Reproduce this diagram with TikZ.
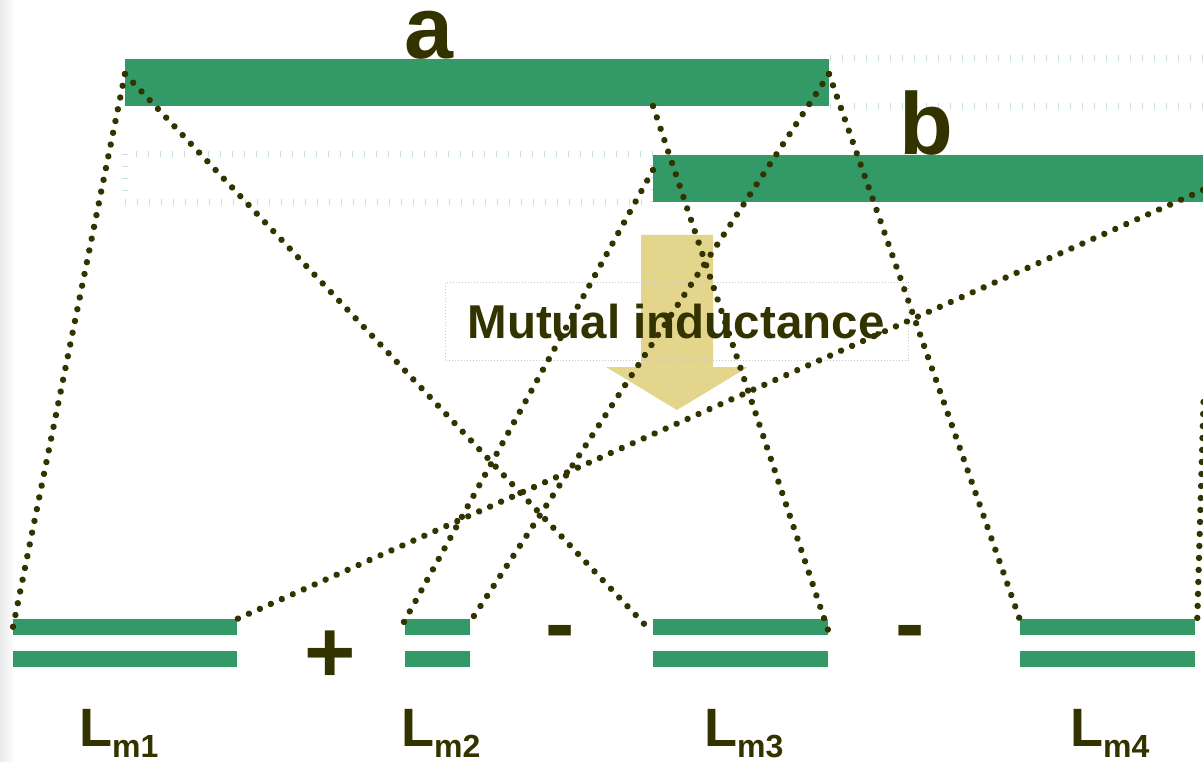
\documentclass[tikz,border=0pt]{standalone}
\usepackage{fontspec}
\setmainfont{Liberation Sans}
\usetikzlibrary{decorations.markings}
\definecolor{grn}{HTML}{339966}
\definecolor{ink}{HTML}{333300}
\definecolor{yel}{HTML}{E3D58B}
\definecolor{faint}{HTML}{C5E3DC}
\definecolor{boxgray}{HTML}{C8C8C8}
\begin{document}
\begin{tikzpicture}[x=1pt,y=-1pt,
  bar/.style={fill=grn, draw=none, inner sep=0pt, outer sep=0pt, rectangle, anchor=north west},
  dots/.style={postaction={decorate}, decoration={markings,
      mark=between positions 0 and 1 step 12pt with {\fill[ink] (0,0) circle (3.2pt);}}},
  faintbox/.style={draw=faint, line width=6pt, dash pattern=on 1pt off 11pt},
  big/.style={text=ink, inner sep=0pt, font=\fontsize{88}{88}\selectfont\bfseries},
  lbl/.style={text=ink, inner sep=0pt, anchor=base west, font=\bfseries}]
\useasboundingbox (0,0) rectangle (1203,762);
\clip (0,0) rectangle (1203,762);
\fill[white] (0,0) rectangle (1203,762);
\shade[left color=black!8, right color=white] (0,0) rectangle (16,762);

% faint selection outlines
\draw[faintbox] (830,58) -- (1210,58);
\draw[faintbox] (830,106) -- (1210,106);
\draw[faintbox] (125,154) rectangle (653,202);

% letters a and b
\node[big, anchor=base] (ta) at (429,59) {a};
\node[big, anchor=base] (tb) at (926,155) {b};

% bars
\node[bar, minimum width=704pt, minimum height=47pt] (bara) at (125,59) {};
\node[bar, minimum width=560pt, minimum height=47pt] (barb) at (653,155) {};

\node[bar, minimum width=224pt, minimum height=16pt] (m1t) at (13,619) {};
\node[bar, minimum width=224pt, minimum height=16pt] (m1b) at (13,651) {};
\node[bar, minimum width=65pt, minimum height=16pt] (m2t) at (405,619) {};
\node[bar, minimum width=65pt, minimum height=16pt] (m2b) at (405,651) {};
\node[bar, minimum width=175pt, minimum height=16pt] (m3t) at (653,619) {};
\node[bar, minimum width=175pt, minimum height=16pt] (m3b) at (653,651) {};
\node[bar, minimum width=175pt, minimum height=16pt] (m4t) at (1020,619) {};
\node[bar, minimum width=175pt, minimum height=16pt] (m4b) at (1020,651) {};

% arrow
\fill[yel] (641,235) -- (713,235) -- (713,367) -- (748,367) -- (677,410)
  -- (606,367) -- (641,367) -- cycle;

% text box
\node[draw=boxgray, line width=1pt, dash pattern=on 1pt off 2pt, inner sep=0pt,
  minimum width=463pt, minimum height=78pt, anchor=north west] (mbox) at (445,282) {};
\node[text=ink, inner sep=0pt, anchor=base, font=\fontsize{47.5}{47.5}\selectfont\bfseries]
  (mt) at (676,338) {Mutual inductance};

% signs
\node[big, anchor=center] (plus) at (330,657) {+};
\node[big, anchor=center] (minA) at (560,639) {-};
\node[big, anchor=center] (minB) at (910,639) {-};

% labels
\node[lbl] (lm1) at (79,746) {\fontsize{54}{54}\selectfont L\fontsize{32}{32}\selectfont\raisebox{-11.5pt}{m1}};
\node[lbl] (lm2) at (401,746) {\fontsize{54}{54}\selectfont L\fontsize{32}{32}\selectfont\raisebox{-11.5pt}{m2}};
\node[lbl] (lm3) at (704,746) {\fontsize{54}{54}\selectfont L\fontsize{32}{32}\selectfont\raisebox{-11.5pt}{m3}};
\node[lbl] (lm4) at (1070,746) {\fontsize{54}{54}\selectfont L\fontsize{32}{32}\selectfont\raisebox{-11.5pt}{m4}};

% connector end points
\coordinate (aTL) at (125,74);
\coordinate (aBm) at (653,106);
\coordinate (aR) at (829,74);
\coordinate (bL) at (653,170);
\coordinate (bR) at (1203,190);
\coordinate (offR) at (1203.5,402);
\coordinate (p1L) at (13,627);
\coordinate (p1R) at (237,619);
\coordinate (p2L) at (399,631);
\coordinate (p2R) at (470,622);
\coordinate (p3L) at (648,628);
\coordinate (p3R) at (828,630);
\coordinate (p4L) at (1020,620);
\coordinate (p4R) at (1197,628);

% dotted lines
\path[dots] (aTL) -- (p1L);
\path[dots] (aTL) -- (p3L);
\path[dots] (aBm) -- (p3R);
\path[dots] (aR) -- (p2R);
\path[dots] (aR) -- (p4L);
\path[dots] (bL) -- (p2L);
\path[dots] (bR) -- (p1R);
\path[dots] (offR) -- (p4R);
\end{tikzpicture}
\end{document}
